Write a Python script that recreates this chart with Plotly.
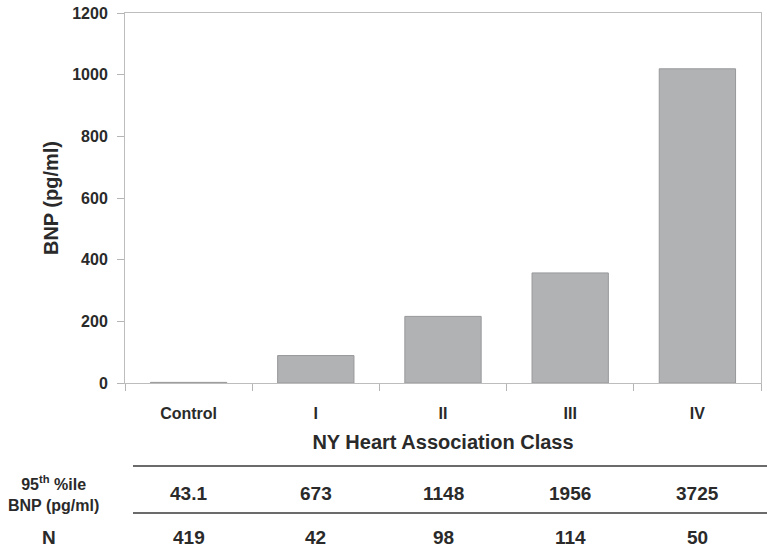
import plotly.graph_objects as go

categories = ["Control", "I", "II", "III", "IV"]
bnp_mean = [2, 89, 216, 357, 1019]
pct95_labels = ["43.1", "673", "1148", "1956", "3725"]
n_labels = ["419", "42", "98", "114", "50"]
y_ticks = [0, 200, 400, 600, 800, 1000, 1200]

FONT = "Liberation Sans, Arial, sans-serif"
TXT = "#2a2a2a"

fig = go.Figure()
fig.add_trace(go.Bar(
    x=categories, y=bnp_mean,
    marker=dict(color="#b1b2b4", line=dict(color="#98999b", width=1)),
    width=0.6,
))

PLOT_BOTTOM_PX = 383
PLOT_H = 370
PLOT_L = 125
PLOT_R = 761


def py(px):
    return (PLOT_BOTTOM_PX - px) / PLOT_H


def pxx(px):
    return (px - PLOT_L) / (PLOT_R - PLOT_L)

annotations = []
for c, v in zip(categories, pct95_labels):
    annotations.append(dict(x=c, xref="x", y=py(493), yref="paper", text=f"<b>{v}</b>",
                            showarrow=False, font=dict(size=19, color=TXT, family=FONT),
                            xanchor="center", yanchor="middle"))
for c, v in zip(categories, n_labels):
    annotations.append(dict(x=c, xref="x", y=py(537), yref="paper", text=f"<b>{v}</b>",
                            showarrow=False, font=dict(size=19, color=TXT, family=FONT),
                            xanchor="center", yanchor="middle"))
annotations.append(dict(x=pxx(53), xref="paper", y=py(493), yref="paper",
                        text="<b>95<sup>th</sup> %ile</b><br><b>BNP (pg/ml)</b>",
                        showarrow=False, font=dict(size=16, color=TXT, family=FONT),
                        align="center", xanchor="center", yanchor="middle"))
annotations.append(dict(x=pxx(49), xref="paper", y=py(537), yref="paper",
                        text="<b>N</b>", showarrow=False,
                        font=dict(size=19, color=TXT, family=FONT),
                        xanchor="center", yanchor="middle"))

shapes = []
for ypx in (466, 513):
    shapes.append(dict(type="line", xref="paper", yref="paper",
                       x0=pxx(133), x1=pxx(767),
                       y0=py(ypx), y1=py(ypx), line=dict(color="#3a3a3a", width=1.6)))

fig.update_layout(
    width=767, height=552,
    margin=dict(l=PLOT_L, r=767 - PLOT_R, t=13, b=552 - PLOT_BOTTOM_PX),
    paper_bgcolor="white", plot_bgcolor="white",
    showlegend=False,
    bargap=0.4,
    font=dict(family=FONT, color=TXT),
    annotations=annotations,
    shapes=shapes,
)
fig.update_xaxes(
    tickvals=categories, ticktext=[f"<b>{c}</b>" for c in categories],
    tickfont=dict(size=16, color=TXT, family=FONT),
    tickson="boundaries", ticks="outside", ticklen=7, tickcolor="#b5b5b5",
    showline=True, linecolor="#bdbdbd", linewidth=1, mirror=True,
    ticklabelstandoff=16,
    title=dict(text="<b>NY Heart Association Class</b>",
               font=dict(size=20, color=TXT, family=FONT), standoff=13),
    showgrid=False, automargin=False,
)
fig.update_yaxes(
    range=[0, 1200], tickvals=y_ticks, ticktext=[f"<b>{t}</b>" for t in y_ticks],
    tickfont=dict(size=16, color=TXT, family=FONT),
    ticks="outside", ticklen=7, tickcolor="#b5b5b5",
    showline=True, linecolor="#bdbdbd", linewidth=1, mirror=True,
    ticklabelstandoff=6,
    title=dict(text="<b>BNP (pg/ml)</b>", font=dict(size=20, color=TXT, family=FONT), standoff=8),
    showgrid=False, zeroline=False, automargin=False,
)

fig.write_html("out.html", config={"displayModeBar": False},
               post_script="document.body.style.margin='0';")
